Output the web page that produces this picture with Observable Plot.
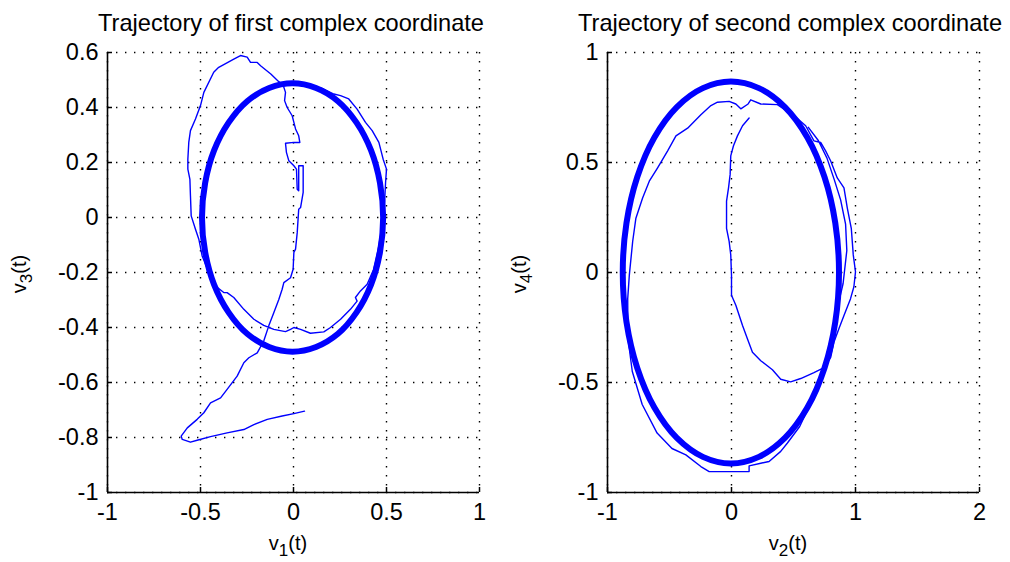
<!DOCTYPE html>
<html>
<head>
<meta charset="utf-8">
<script src="https://cdn.jsdelivr.net/npm/d3@7"></script>
<script src="https://cdn.jsdelivr.net/npm/@observablehq/plot@0.6"></script>
<style>
  body { margin: 0; background: #fff; }
  #fig { position: relative; width: 1010px; height: 562px; overflow: hidden; background: #fff;
         font-family: "Liberation Sans", Arial, Helvetica, sans-serif; color: #000; }
  .panel { position: absolute; top: 0; }
  .title { position: absolute; top: 12px; font-size: 23.6px; line-height: 23.6px; white-space: nowrap; transform: translateX(-50%); }
  .xlab { position: absolute; top: 533px; font-size: 20px; line-height: 20px; white-space: nowrap; transform: translateX(-50%); }
  .ylab { position: absolute; font-size: 20px; line-height: 20px; white-space: nowrap; transform: translate(-50%, -50%) rotate(-90deg); }
  .lab sub { font-size: 0.85em; vertical-align: -0.35em; line-height: 0; }
</style>
</head>
<body>
<div id="fig"></div>
<script>
// Axis ticks for each panel
const xTicks1 = [-1, -0.5, 0, 0.5, 1];
const yTicks1 = [-1, -0.8, -0.6, -0.4, -0.2, 0, 0.2, 0.4, 0.6];
const xTicks2 = [-1, 0, 1, 2];
const yTicks2 = [-1, -0.5, 0, 0.5, 1];

// Transient path of (v1, v3), from its start until it settles onto the cycle
const traj1 = [
  [0.059,-0.704],[0.002,-0.713],[-0.061,-0.722],[-0.141,-0.734],[-0.213,-0.753],[-0.267,-0.771],
  [-0.357,-0.783],[-0.446,-0.797],[-0.518,-0.81],[-0.554,-0.817],[-0.598,-0.807],[-0.604,-0.795],
  [-0.571,-0.765],[-0.518,-0.734],[-0.482,-0.71],[-0.446,-0.674],[-0.392,-0.656],[-0.357,-0.625],
  [-0.303,-0.577],[-0.267,-0.528],[-0.24,-0.51],[-0.195,-0.492],[-0.16,-0.449],[-0.133,-0.394],
  [-0.106,-0.346],[-0.079,-0.298],[-0.061,-0.261],[-0.052,-0.237],[-0.016,-0.219],[-0.002,-0.188],
  [0.002,-0.127],[0.011,-0.115],[0.02,-0.055],[0.028,0.03],[0.038,0.036],[0.052,0.091],
  [0.052,0.188],[0.028,0.188],[0.028,0.097],[0.02,0.103],[0.016,0.176],[0.002,0.188],
  [-0.025,0.206],[-0.038,0.237],[-0.043,0.27],[0.002,0.273],[0.034,0.273],[0.028,0.297],
  [0.011,0.322],[0.002,0.346],[-0.007,0.37],[-0.034,0.4],[-0.048,0.425],[-0.043,0.455],
  [-0.055,0.48],[-0.079,0.494],[-0.122,0.522],[-0.177,0.552],[-0.195,0.564],[-0.231,0.564],
  [-0.249,0.583],[-0.285,0.589],[-0.321,0.576],[-0.402,0.546],[-0.429,0.528],[-0.482,0.455],
  [-0.5,0.407],[-0.527,0.358],[-0.554,0.316],[-0.563,0.273],[-0.568,0.212],[-0.568,0.176],
  [-0.557,0.139],[-0.554,0.079],[-0.55,0.006],[-0.527,-0.043],[-0.509,-0.079],[-0.491,-0.14],
  [-0.455,-0.2],[-0.419,-0.249],[-0.375,-0.273],[-0.357,-0.273],[-0.321,-0.291],[-0.267,-0.334],
  [-0.213,-0.37],[-0.16,-0.392],[-0.106,-0.407],[-0.043,-0.415],[-0.016,-0.407],[0.002,-0.4],
  [0.038,-0.407],[0.091,-0.421],[0.163,-0.416],[0.199,-0.4],[0.253,-0.37],[0.306,-0.334],
  [0.342,-0.304],[0.333,-0.291],[0.36,-0.267],[0.396,-0.243],[0.43,-0.19],[0.46,-0.1],
  [0.48,0.0],[0.49,0.06],[0.495,0.127],[0.5,0.176],[0.482,0.212],[0.459,0.273],
  [0.423,0.316],[0.387,0.346],[0.342,0.394],[0.297,0.431],[0.253,0.443],[0.217,0.449],
  [0.15,0.47],[0.06,0.485]
];

// Limit cycle of (v1, v3)
const cycle1 = [
  [0.482,0],[0.465,0.126],[0.417,0.244],[0.339,0.345],[0.239,0.423],[0.121,0.471],
  [-0.005,0.488],[-0.131,0.471],[-0.249,0.423],[-0.349,0.345],[-0.427,0.244],[-0.475,0.126],
  [-0.492,0],[-0.475,-0.126],[-0.427,-0.244],[-0.349,-0.345],[-0.249,-0.423],[-0.131,-0.471],
  [-0.005,-0.488],[0.121,-0.471],[0.239,-0.423],[0.339,-0.345],[0.417,-0.244],[0.465,-0.126]
];

// Transient path of (v2, v4)
const traj2 = [
  [0.142,0.702],[0.089,0.667],[0.048,0.621],[0.016,0.576],[-0.006,0.53],[-0.011,0.446],
  [-0.024,0.385],[-0.04,0.324],[-0.04,0.201],[-0.019,0.141],[-0.006,0.08],[0.0,-0.012],
  [0.0,-0.103],[0.035,-0.149],[0.089,-0.241],[0.129,-0.302],[0.169,-0.363],[0.236,-0.401],
  [0.33,-0.442],[0.397,-0.485],[0.477,-0.497],[0.558,-0.482],[0.665,-0.455],[0.746,-0.432],
  [0.8,-0.386],[0.826,-0.317],[0.866,-0.256],[0.907,-0.195],[0.96,-0.119],[0.987,-0.065],
  [1.0,0.003],[0.982,0.08],[0.966,0.201],[0.934,0.293],[0.907,0.385],[0.853,0.43],
  [0.8,0.507],[0.759,0.553],[0.719,0.591],[0.665,0.598],[0.598,0.667],[0.504,0.713],
  [0.37,0.763],[0.236,0.766],[0.155,0.785],[0.134,0.766],[0.075,0.744],[0.035,0.766],
  [-0.019,0.778],[-0.113,0.774],[-0.166,0.759],[-0.247,0.717],[-0.354,0.656],[-0.448,0.621],
  [-0.515,0.553],[-0.596,0.476],[-0.663,0.415],[-0.717,0.339],[-0.771,0.247],[-0.797,0.141],
  [-0.824,-0.012],[-0.837,-0.119],[-0.835,-0.3],[-0.8,-0.45],[-0.72,-0.6],[-0.6,-0.73],
  [-0.48,-0.8],[-0.368,-0.829],[-0.247,-0.882],[-0.18,-0.905],[0.142,-0.905],[0.142,-0.879],
  [0.236,-0.867],[0.303,-0.859],[0.397,-0.813],[0.451,-0.775],[0.55,-0.7],[0.65,-0.58],
  [0.75,-0.43],[0.83,-0.22],[0.9,-0.05],[0.93,0.1],[0.92,0.22],[0.88,0.33],
  [0.83,0.42],[0.77,0.52],[0.7,0.6],[0.62,0.66]
];

// Limit cycle of (v2, v4)
const cycle2 = [
  [0.867,0],[0.837,0.225],[0.75,0.434],[0.612,0.614],[0.431,0.752],[0.221,0.838],
  [-0.005,0.868],[-0.231,0.838],[-0.441,0.752],[-0.622,0.614],[-0.76,0.434],[-0.847,0.225],
  [-0.877,0],[-0.847,-0.225],[-0.76,-0.434],[-0.622,-0.614],[-0.441,-0.752],[-0.231,-0.838],
  [-0.005,-0.868],[0.221,-0.838],[0.431,-0.752],[0.612,-0.614],[0.75,-0.434],[0.837,-0.225]
];

const BLUE = "#0000ff";
const fmt = d => String(d); // plain hyphen-minus labels

function panel({xDomain, yDomain, xTicks, yTicks, traj, cycle, marginLeft, marginRight}) {
  const dots = {stroke: "#000", strokeOpacity: 1, strokeWidth: 1.4, strokeDasharray: "1.4,7.6"};
  return Plot.plot({
    width: 505,
    height: 562,
    marginTop: 52,
    marginBottom: 70,
    marginLeft,
    marginRight,
    x: {domain: xDomain},
    y: {domain: yDomain},
    style: {fontFamily: "'Liberation Sans', Arial, Helvetica, sans-serif", fontSize: "23.5px",
            background: "transparent", overflow: "visible", color: "#000"},
    marks: [
      Plot.gridX({ticks: xTicks, ...dots}),
      Plot.gridY({ticks: yTicks, ...dots}),
      Plot.line(traj, {x: d => d[0], y: d => d[1], stroke: BLUE, strokeWidth: 1.4}),
      Plot.line(cycle, {x: d => d[0], y: d => d[1], curve: "catmull-rom-closed", stroke: BLUE, strokeWidth: 6}),
      Plot.ruleX([xDomain[0]], {stroke: "#000", strokeWidth: 1.6}),
      Plot.ruleY([yDomain[0]], {stroke: "#000", strokeWidth: 1.6}),
      Plot.axisX({ticks: xTicks, tickFormat: fmt, tickSize: 5, dy: -5, tickPadding: 11,
                  strokeWidth: 1.5, label: null, fill: "#000"}),
      Plot.axisY({ticks: yTicks, tickFormat: fmt, tickSize: 5, dx: 5, tickPadding: 9,
                  strokeWidth: 1.5, label: null, fill: "#000"})
    ]
  });
}

const fig = document.getElementById("fig");

const left = panel({xDomain: [-1, 1], yDomain: [-1, 0.6], xTicks: xTicks1, yTicks: yTicks1,
                    traj: traj1, cycle: cycle1, marginLeft: 107, marginRight: 26});
left.classList.add("panel");
left.style.left = "0px";
fig.appendChild(left);

const right = panel({xDomain: [-1, 2], yDomain: [-1, 1], xTicks: xTicks2, yTicks: yTicks2,
                     traj: traj2, cycle: cycle2, marginLeft: 102, marginRight: 31});
right.classList.add("panel");
right.style.left = "505px";
fig.appendChild(right);

// Titles and axis labels
function addText(cls, html, x, y) {
  const el = document.createElement("div");
  el.className = cls + " lab";
  el.innerHTML = html;
  el.style.left = x + "px";
  if (y != null) el.style.top = y + "px";
  fig.appendChild(el);
}
addText("title", "Trajectory of first complex coordinate", 291);
addText("title", "Trajectory of second complex coordinate", 790);
addText("xlab", "v<sub>1</sub>(t)", 288);
addText("xlab", "v<sub>2</sub>(t)", 788);
addText("ylab", "v<sub>3</sub>(t)", 19, 274);
addText("ylab", "v<sub>4</sub>(t)", 519, 274);
</script>
</body>
</html>
